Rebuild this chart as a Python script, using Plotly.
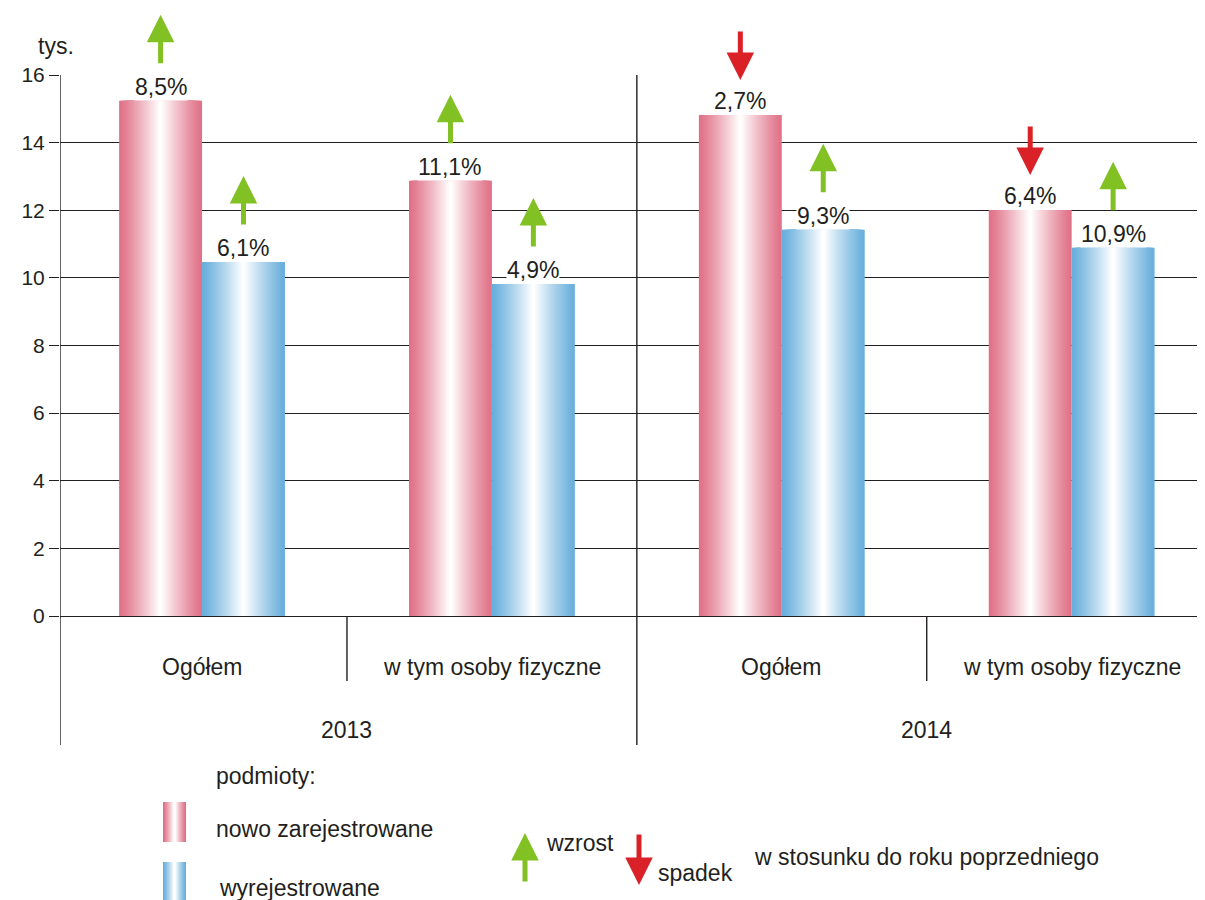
import plotly.graph_objects as go

# ---------------- data ----------------
years = ["2013", "2014"]
categories = ["Ogółem", "w tym osoby fizyczne", "Ogółem", "w tym osoby fizyczne"]
new_registered = [15.24, 12.87, 14.82, 12.01]      # tys., nowo zarejestrowane
deregistered = [10.47, 9.82, 11.42, 10.89]          # tys., wyrejestrowane
new_change = ["8,5%", "11,1%", "2,7%", "6,4%"]
dereg_change = ["6,1%", "4,9%", "9,3%", "10,9%"]
new_dir = ["up", "up", "down", "down"]
dereg_dir = ["up", "up", "up", "up"]
y_ticks = [0, 2, 4, 6, 8, 10, 12, 14, 16]

# ---------------- style ----------------
FONT = "Liberation Sans, Arial, sans-serif"
TXT = "#231F20"
LINE = "#231F20"
RED_EDGE = (224, 113, 135)
BLUE_EDGE = (104, 175, 220)
GREEN_ARROW = "#82C123"
RED_ARROW = "#DA2128"
FS = 23

OFF = 8  # page body margin
W, H = 1205 - OFF, 900 - OFF
ML, MR, MT, MB = 60 - OFF, 0, 75 - OFF, 0
PH = 541
MB = H - MT - PH
PW = W - ML - MR

pos = [i + 0.5 for i in range(len(categories))]
BW = 0.286
N = 26


def mix(c, t):
    r, g, b = [round(v + (255 - v) * t) for v in c]
    return f"rgb({r},{g},{b})"


def px_x(p):
    return (p - OFF - ML) / PW


def px_y(p):
    return (MT + PH - (p - OFF)) / PH


fig = go.Figure()

for vals, edge, sign in [(new_registered, RED_EDGE, -1), (deregistered, BLUE_EDGE, 1)]:
    xs = [p + sign * BW / 2 for p in pos]
    for k in range(N):
        frac = 1 - k / N
        t = (k / (N - 1)) ** 1.15
        fig.add_trace(go.Bar(
            x=xs, y=vals, width=BW * frac,
            marker=dict(color=mix(edge, t), line=dict(width=0)),
            hoverinfo="skip", showlegend=False,
        ))

annotations = []
# value labels and arrows
for vals, labels, dirs, sign in [(new_registered, new_change, new_dir, -1),
                                 (deregistered, dereg_change, dereg_dir, 1)]:
    for p, v, lab, d in zip(pos, vals, labels, dirs):
        xc = p + sign * BW / 2
        annotations.append(dict(
            x=xc, y=v, xref="x", yref="y", text=lab, showarrow=False,
            xanchor="center", yanchor="bottom", yshift=0, bgcolor="white", borderpad=0,
            font=dict(size=FS, color=TXT, family=FONT)))
        if d == "up":
            annotations.append(dict(
                x=xc, y=v, xref="x", yref="y", text="", showarrow=True,
                ax=0, ay=50, yshift=86, arrowhead=2, arrowsize=1.1,
                arrowwidth=5, arrowcolor=GREEN_ARROW))
        else:
            annotations.append(dict(
                x=xc, y=v, xref="x", yref="y", text="", showarrow=True,
                ax=0, ay=-50, yshift=35, arrowhead=2, arrowsize=1.1,
                arrowwidth=5, arrowcolor=RED_ARROW))

# category labels
for p, c in zip(pos, categories):
    annotations.append(dict(x=p, y=px_y(667), xref="x", yref="paper", text=c,
                            xanchor="center", yanchor="middle", showarrow=False,
                            font=dict(size=FS, color=TXT, family=FONT)))
# year labels
for i, yr in enumerate(years):
    annotations.append(dict(x=2 * i + 1, y=px_y(730), xref="x", yref="paper", text=yr,
                            xanchor="center", yanchor="middle", showarrow=False,
                            font=dict(size=FS, color=TXT, family=FONT)))

# unit label
annotations.append(dict(x=px_x(56), y=px_y(46), xref="paper", yref="paper", text="tys.",
                        xanchor="center", yanchor="middle", showarrow=False,
                        font=dict(size=FS, color=TXT, family=FONT)))

# legend texts
legend_texts = [
    ("podmioty:", 214, 776),
    ("nowo zarejestrowane", 214, 829),
    ("wyrejestrowane", 217, 888),
    ("wzrost", 544, 843),
    ("spadek", 656, 873),
    ("w stosunku do roku poprzedniego", 752, 857),
]
for t, lx, ly in legend_texts:
    annotations.append(dict(x=px_x(lx), y=px_y(ly), xref="paper", yref="paper", text=t,
                            xanchor="left", yanchor="middle", showarrow=False,
                            font=dict(size=FS, color=TXT, family=FONT)))
# legend arrows
annotations.append(dict(x=px_x(525), y=px_y(833), xref="paper", yref="paper", text="",
                        showarrow=True, ax=0, ay=50, arrowhead=2, arrowsize=1.1,
                        arrowwidth=5, arrowcolor=GREEN_ARROW))
annotations.append(dict(x=px_x(639), y=px_y(885), xref="paper", yref="paper", text="",
                        showarrow=True, ax=0, ay=-52, arrowhead=2, arrowsize=1.1,
                        arrowwidth=5, arrowcolor=RED_ARROW))

shapes = []
# axis / separator lines
x_left = 0.01
shapes.append(dict(type="line", xref="x", yref="paper", x0=x_left, x1=x_left,
                   y0=px_y(745), y1=1, line=dict(color=LINE, width=1.4)))
shapes.append(dict(type="line", xref="x", yref="paper", x0=2, x1=2,
                   y0=px_y(745), y1=1, line=dict(color=LINE, width=1.4)))
for xv in (1, 3):
    shapes.append(dict(type="line", xref="x", yref="paper", x0=xv, x1=xv,
                       y0=0, y1=px_y(681), line=dict(color=LINE, width=1.4)))

# legend swatches (gradient)
M = 10
for edge, top, bot in [(RED_EDGE, 802, 842), (BLUE_EDGE, 862, 901)]:
    x0p, x1p = 163, 186
    cx, hw = (x0p + x1p) / 2, (x1p - x0p) / 2
    for k in range(M):
        frac = 1 - k / M
        t = (k / (M - 1)) ** 1.15
        shapes.append(dict(type="rect", xref="paper", yref="paper",
                           x0=px_x(cx - hw * frac), x1=px_x(cx + hw * frac),
                           y0=px_y(bot), y1=px_y(top),
                           fillcolor=mix(edge, t), line=dict(width=0)))

fig.update_layout(
    width=W, height=H,
    margin=dict(l=ML, r=MR, t=MT, b=MB, autoexpand=False),
    paper_bgcolor="white", plot_bgcolor="white",
    barmode="overlay",
    showlegend=False,
    font=dict(family=FONT, color=TXT, size=FS),
    xaxis=dict(range=[x_left, 3.96], showticklabels=False, showgrid=False,
               zeroline=False, ticks="", fixedrange=True),
    yaxis=dict(range=[0, 16], tickvals=y_ticks, ticktext=[str(v) for v in y_ticks],
               showgrid=True, gridcolor=LINE, gridwidth=1.4,
               zeroline=True, zerolinecolor=LINE, zerolinewidth=1.4,
               ticks="outside", ticklen=10, tickcolor=LINE, tickwidth=1.4,
               showline=False, automargin=False,
               tickfont=dict(size=21, color=TXT, family=FONT)),
    annotations=annotations,
    shapes=shapes,
)

fig.write_html("out.html")
